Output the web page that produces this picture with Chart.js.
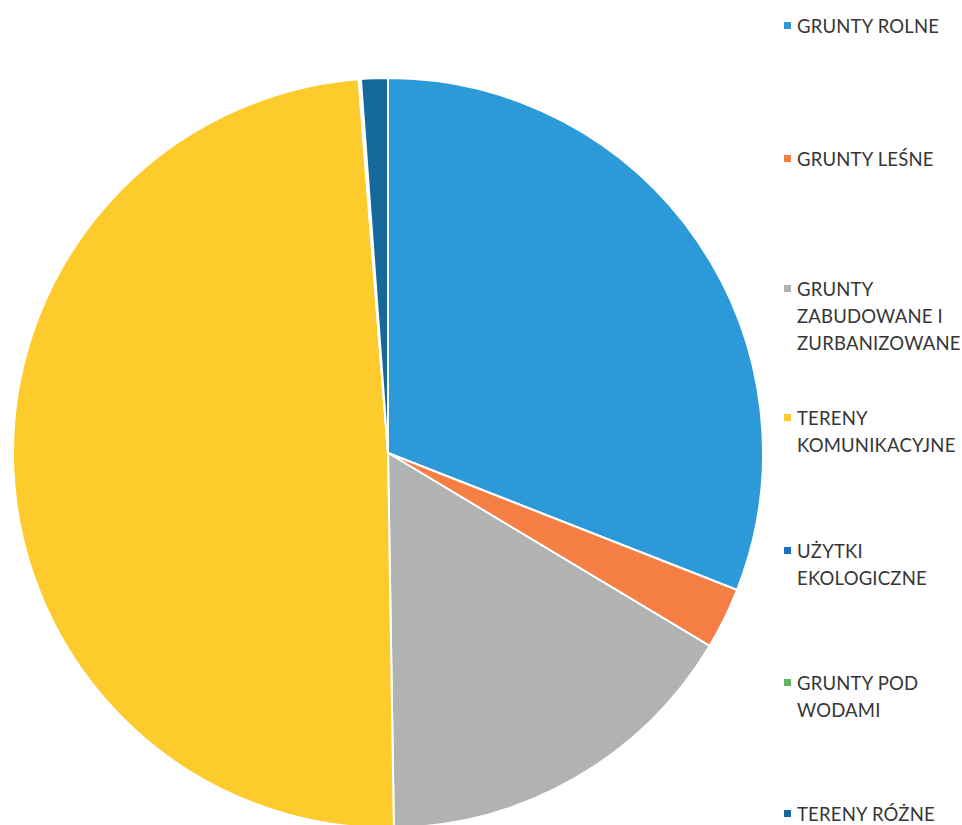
<!DOCTYPE html>
<html>
<head>
<meta charset="utf-8">
<script src="https://cdn.jsdelivr.net/npm/chart.js@4"></script>
<style>
  html, body { margin: 0; padding: 0; background: #fff; width: 962px; height: 825px; overflow: hidden; }
  #wrap { position: absolute; left: 12px; top: 77px; width: 752px; height: 752px; }
  #legend { position: absolute; left: 0; top: 0; font-family: Lato, "Open Sans", sans-serif; font-size: 18.5px; color: #363636; }
  .item { position: absolute; left: 784px; white-space: nowrap; }
  .sw { position: absolute; left: 0; top: 9px; width: 7px; height: 7px; }
  .txt { position: absolute; left: 13px; top: 0; line-height: 27px; letter-spacing: 0.2px; }
</style>
</head>
<body>
<div id="wrap"><canvas id="c"></canvas></div>
<div id="legend"></div>
<script>
const categories = [
  "GRUNTY ROLNE",
  "GRUNTY LEŚNE",
  "GRUNTY ZABUDOWANE I ZURBANIZOWANE",
  "TERENY KOMUNIKACYJNE",
  "UŻYTKI EKOLOGICZNE",
  "GRUNTY POD WODAMI",
  "TERENY RÓŻNE"
];
const legendLines = [
  ["GRUNTY ROLNE"],
  ["GRUNTY LEŚNE"],
  ["GRUNTY", "ZABUDOWANE I", "ZURBANIZOWANE"],
  ["TERENY", "KOMUNIKACYJNE"],
  ["UŻYTKI", "EKOLOGICZNE"],
  ["GRUNTY POD", "WODAMI"],
  ["TERENY RÓŻNE"]
];
const shares = [30.95, 2.65, 16.15, 49.0, 0.05, 0.05, 1.15];
const colors = ["#2C9AD8", "#F47E44", "#B1B3B2", "#FDCB2C", "#1F6FC5", "#5CB85C", "#156A9B"];
const legendTops = [13, 146, 276, 405, 538, 670, 801];

new Chart(document.getElementById('c'), {
  type: 'pie',
  data: {
    labels: categories,
    datasets: [{
      data: shares,
      backgroundColor: colors,
      borderColor: '#ffffff',
      borderWidth: 2
    }]
  },
  options: {
    responsive: true,
    maintainAspectRatio: false,
    animation: false,
    layout: { padding: 0 },
    plugins: { legend: { display: false }, tooltip: { enabled: false } }
  }
});

const lg = document.getElementById('legend');
legendLines.forEach((lines, i) => {
  const it = document.createElement('div');
  it.className = 'item';
  it.style.top = legendTops[i] + 'px';
  const sw = document.createElement('div');
  sw.className = 'sw';
  sw.style.background = colors[i];
  const tx = document.createElement('div');
  tx.className = 'txt';
  tx.innerHTML = lines.join('<br>');
  it.appendChild(sw);
  it.appendChild(tx);
  lg.appendChild(it);
});
</script>
</body>
</html>
